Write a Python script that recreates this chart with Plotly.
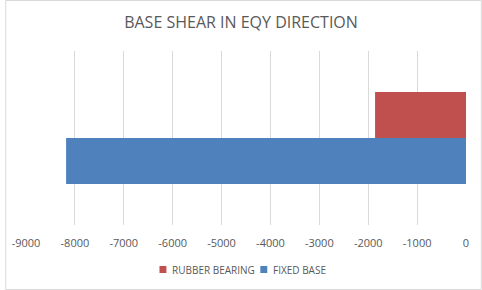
import plotly.graph_objects as go

categories = ["EQY"]
series_names = ["RUBBER BEARING", "FIXED BASE"]
series_colors = ["#C0504D", "#4F81BD"]
rubber_bearing = [-1860]
fixed_base = [-8180]
tick_vals = list(range(-9000, 1, 1000))
tick_text = [str(v) for v in tick_vals]

W, H = 482, 290
L, R, T, B = 21, 16, 51, 65
pw, ph = W - L - R, H - T - B

fig = go.Figure()
for name, vals, col in zip(series_names, [rubber_bearing, fixed_base], series_colors):
    fig.add_trace(go.Bar(y=categories, x=vals, name=name, orientation="h",
                         marker=dict(color=col, line=dict(width=0)), showlegend=False))

font_fam = "Open Sans, Liberation Sans, sans-serif"

def px_x(x):
    return (x - L) / pw

def px_y(y):
    return (T + ph - y) / ph

shapes = [dict(type="rect", xref="paper", yref="paper",
               x0=px_x(0.5), x1=px_x(W - 0.5), y0=px_y(H - 0.5), y1=px_y(0.5),
               line=dict(color="#D9D9D9", width=1), fillcolor="rgba(0,0,0,0)")]
annotations = []
legend_pos = [(156, 167), (258, 269)]
for (sx, tx), name, col in zip(legend_pos, series_names, series_colors):
    shapes.append(dict(type="rect", xref="paper", yref="paper",
                       x0=px_x(sx), x1=px_x(sx + 7), y0=px_y(273), y1=px_y(266),
                       line=dict(width=0), fillcolor=col))
    annotations.append(dict(text=name, xref="paper", yref="paper", x=px_x(tx), y=px_y(269.5),
                            xanchor="left", yanchor="middle", showarrow=False,
                            font=dict(family=font_fam, size=10, color="#595959")))

fig.update_layout(
    width=W, height=H,
    margin=dict(l=L, r=R, t=T, b=B, pad=0),
    paper_bgcolor="white", plot_bgcolor="white",
    barmode="group", bargap=0.47, bargroupgap=0,
    title=dict(text="BASE SHEAR IN EQY DIRECTION", x=0.5, xanchor="center",
               y=1 - 22 / H, yanchor="middle",
               font=dict(family=font_fam, size=16, color="#595959")),
    showlegend=False,
    xaxis=dict(range=[-9000, 0], tickvals=tick_vals, ticktext=tick_text,
               showgrid=True, gridcolor="#D9D9D9", gridwidth=1, zeroline=False,
               showline=False, ticks="", ticklabelstandoff=10,
               tickfont=dict(family=font_fam, size=11, color="#595959")),
    yaxis=dict(autorange="reversed", showticklabels=False, showgrid=False,
               zeroline=False, showline=False, ticks=""),
    shapes=shapes,
    annotations=annotations,
)
fig.write_html("out.html")
